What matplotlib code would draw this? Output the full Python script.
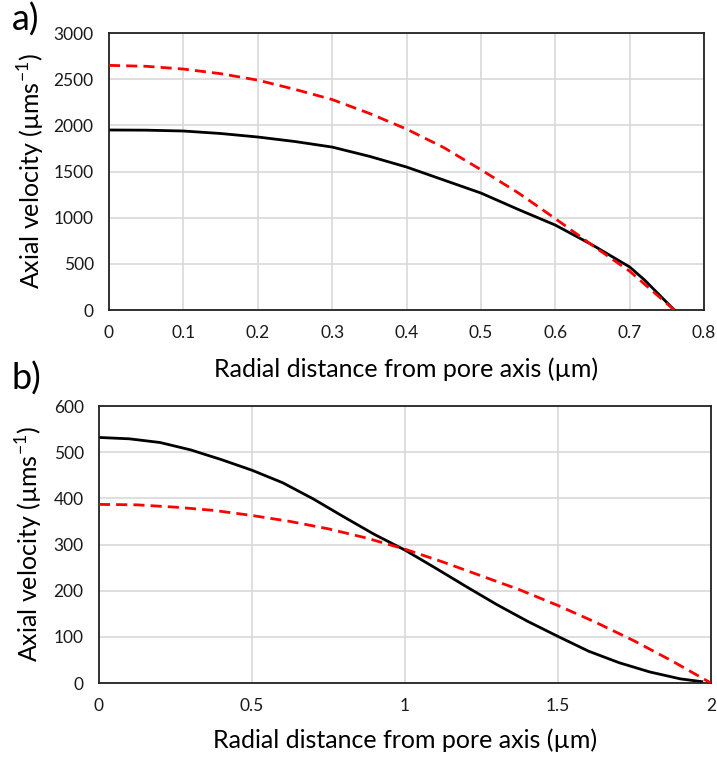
import matplotlib
matplotlib.use('Agg')
import matplotlib.pyplot as plt

plt.rcParams['font.family'] = ['Lato', 'DejaVu Sans']

# ------------------------- data ------------------------- #
# panel a)
xa_red = [0, 0.05, 0.1, 0.15, 0.2, 0.25, 0.3, 0.35, 0.4, 0.45, 0.5, 0.55, 0.6, 0.65, 0.7, 0.76]
ya_red = [2650, 2640, 2610, 2560, 2490, 2390, 2280, 2130, 1960, 1760, 1520, 1270, 990, 700, 420, 0]
xa_blk = [0, 0.05, 0.1, 0.15, 0.2, 0.25, 0.3, 0.35, 0.4, 0.45, 0.5, 0.55, 0.6, 0.65, 0.7, 0.72, 0.76]
ya_blk = [1950, 1948, 1939, 1912, 1874, 1825, 1765, 1665, 1549, 1408, 1267, 1090, 920, 704, 466, 325, 0]

# panel b)
xb_blk = [0, 0.1, 0.2, 0.3, 0.4, 0.5, 0.6, 0.7, 0.8, 0.9, 1.0, 1.1, 1.2, 1.3, 1.4, 1.5, 1.6, 1.7, 1.8, 1.9, 1.97]
yb_blk = [532, 529, 521, 505, 484, 461, 434, 399, 360, 322, 288, 249, 209, 170, 134, 101, 69, 44, 24, 9, 3]
xb_red = [0, 0.125, 0.25, 0.375, 0.5, 0.625, 0.75, 0.875, 1.0, 1.125, 1.25, 1.375, 1.5, 1.625, 1.75, 1.875, 2.0]
yb_red = [387, 386, 381, 374, 363, 350, 334, 314, 290, 262, 232, 202, 168, 131, 91, 47, 0]

ylab = r'Axial velocity (µms$^{\mathregular{-1}}$)'
xlab = 'Radial distance from pore axis (µm)'

fig = plt.figure(figsize=(7.17, 7.58), dpi=100)
ax_a = fig.add_axes([0.152, 0.591, 0.830, 0.3654])
ax_b = fig.add_axes([0.138, 0.0989, 0.8536, 0.3654])


def style(ax, xlim, xticks, xtl, ylim, yticks):
    ax.set_xlim(*xlim)
    ax.set_ylim(*ylim)
    ax.set_xticks(xticks)
    ax.set_xticklabels(xtl)
    ax.set_yticks(yticks)
    ax.grid(True, color='#d9d9d9', lw=1.2)
    ax.set_axisbelow(True)
    ax.tick_params(length=0, labelsize=12.5, pad=11, colors='#1a1a1a')
    for s in ax.spines.values():
        s.set_color('#222222')
        s.set_linewidth(1.3)
    ax.set_ylabel(ylab, fontsize=18)
    ax.set_xlabel(xlab, fontsize=18)


# ---- a)
ax_a.plot(xa_red, ya_red, color='red', lw=2, ls=(0, (4, 2.2)), zorder=3)
ax_a.plot(xa_blk, ya_blk, color='black', lw=2, zorder=2)
style(ax_a, (0, 0.8), [i / 10 for i in range(9)],
      ['0', '0.1', '0.2', '0.3', '0.4', '0.5', '0.6', '0.7', '0.8'],
      (0, 3000), range(0, 3001, 500))
ax_a.yaxis.set_label_coords(-0.104, 0.5)
ax_a.xaxis.set_label_coords(0.5, -0.17)

# ---- b)
ax_b.plot(xb_blk, yb_blk, color='black', lw=2, zorder=2)
ax_b.plot(xb_red, yb_red, color='red', lw=2, ls=(0, (4, 2.2)), zorder=3)
style(ax_b, (0, 2), [0, 0.5, 1, 1.5, 2], ['0', '0.5', '1', '1.5', '2'],
      (0, 600), range(0, 601, 100))
ax_b.yaxis.set_label_coords(-0.088, 0.5)
ax_b.xaxis.set_label_coords(0.5, -0.165)

fig.text(0.016, 0.974, 'a)', fontsize=26, va='center', ha='left')
fig.text(0.016, 0.501, 'b)', fontsize=26, va='center', ha='left')

fig.savefig('out.png', dpi=100)
